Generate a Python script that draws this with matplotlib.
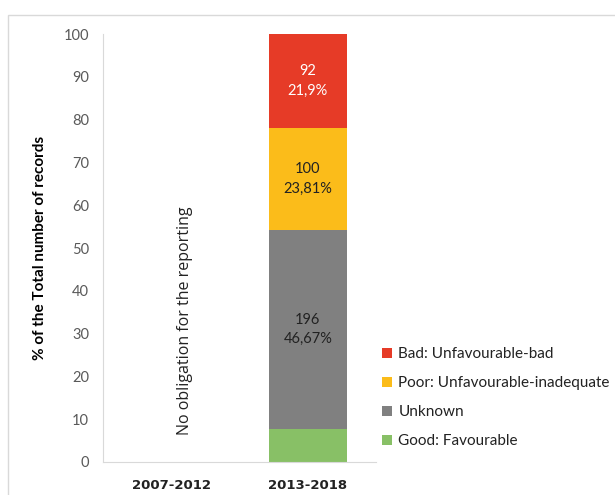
import matplotlib
matplotlib.use("Agg")
from matplotlib import pyplot as plt
from matplotlib.patches import Rectangle

plt.rcParams['font.family'] = ['Lato', 'DejaVu Sans']

periods = ["2007-2012", "2013-2018"]
labels = ["Good: Favourable", "Unknown", "Poor: Unfavourable-inadequate", "Bad: Unfavourable-bad"]
counts = [32, 196, 100, 92]
pcts = [7.62, 46.67, 23.81, 21.9]
pct_text = ["", "46,67%", "23,81%", "21,9%"]
colors = ["#88C066", "#808080", "#FBBC1A", "#E63B27"]
text_colors = [None, "#222222", "#222222", "white"]

fig = plt.figure(figsize=(6.15, 4.95), dpi=100)
ax = fig.add_axes([0.1675, 0.0667, 0.444, 0.8643])

# outer frame
fig.patches.append(Rectangle((0.013, -0.01), 1.0, 0.98, transform=fig.transFigure,
                             fill=False, edgecolor="#D9D9D9", lw=1))

bottom = 0
handles = []
for i in range(len(labels)):
    b = ax.bar(1, pcts[i], bottom=bottom, width=0.57, color=colors[i], label=labels[i])
    handles.append(b)
    if pct_text[i]:
        ax.text(1, bottom + pcts[i] / 2, f"{counts[i]}\n{pct_text[i]}", ha="center", va="center",
                fontsize=10.5, color=text_colors[i], linespacing=1.5)
    bottom += pcts[i]

ax.text(0.1, 33, "No obligation for the reporting", rotation=90, ha="center", va="center",
        fontsize=11.5, color="#222222", family=["Open Sans", "DejaVu Sans"])

ax.set_xlim(-0.5, 1.5)
ax.set_ylim(0, 100)
ax.set_yticks(range(0, 101, 10))
ax.set_xticks([0, 1])
ax.set_xticklabels(periods, fontweight="bold", fontsize=9.5, color="#222222",
                   family=["DejaVu Sans"])
ax.tick_params(axis="y", length=0, labelsize=10.5, labelcolor="#595959", pad=10)
ax.tick_params(axis="x", length=0, pad=12)
ax.set_ylabel("% of the Total number of records", fontweight="bold", fontsize=11, labelpad=12)

for s in ["top", "right"]:
    ax.spines[s].set_visible(False)
ax.spines["left"].set_color("#D9D9D9")
ax.spines["bottom"].set_color("#D9D9D9")

ax.legend(handles[::-1], labels[::-1], loc="center left", bbox_to_anchor=(0.97, 0.15),
          frameon=False, fontsize=11, handlelength=0.7, handleheight=0.7,
          handletextpad=0.4, labelspacing=0.98, labelcolor="#222222")

fig.savefig("out.png", dpi=100)
